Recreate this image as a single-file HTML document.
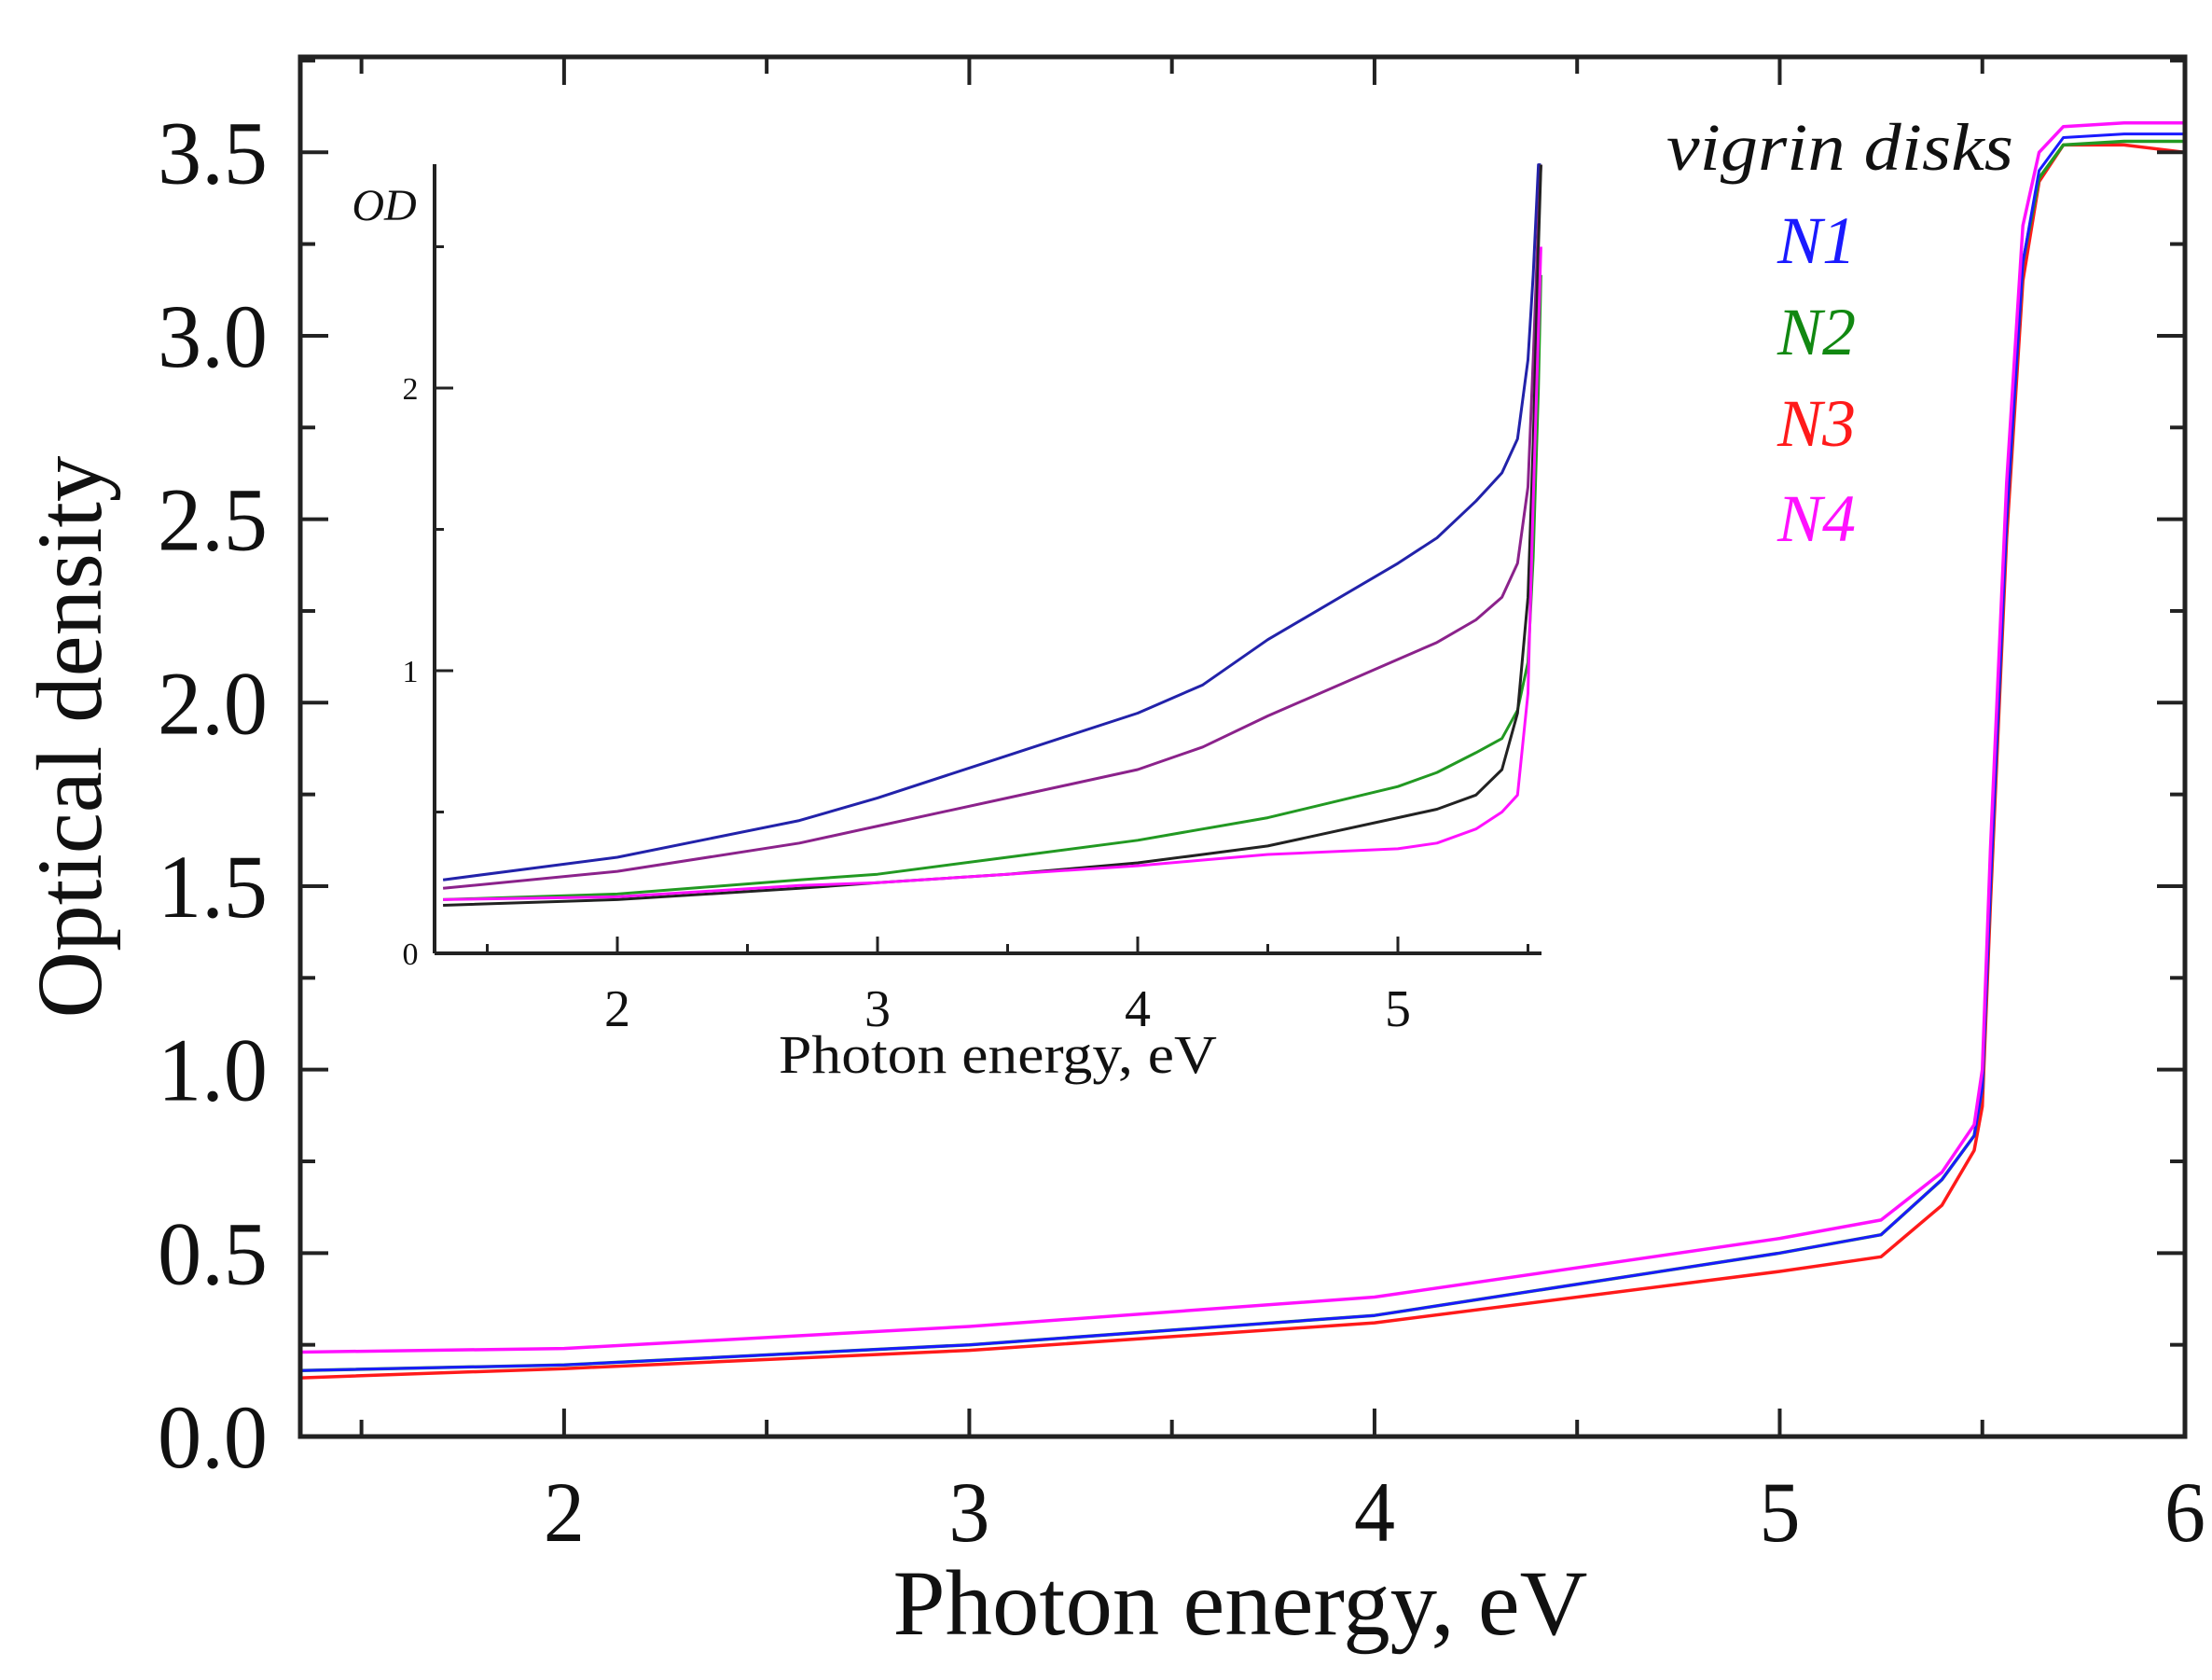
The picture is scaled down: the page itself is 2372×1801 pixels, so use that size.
<!DOCTYPE html>
<html><head><meta charset="utf-8"><style>
html,body{margin:0;padding:0;background:#fff;}
svg{display:block;}
text{font-family:"Liberation Serif",serif;fill:#111;}
</style></head><body>
<svg id="chart" width="2372" height="1801" viewBox="0 0 2372 1801" xmlns="http://www.w3.org/2000/svg">
<g id="main"></g>
<g id="inset"></g>
<text x="1973" y="182" font-size="72" font-style="italic" text-anchor="middle" textLength="372" lengthAdjust="spacingAndGlyphs">vigrin disks</text>
<text x="1948" y="282" font-size="72" font-style="italic" text-anchor="middle" style="fill:#1a1aff">N1</text>
<text x="1948" y="380" font-size="72" font-style="italic" text-anchor="middle" style="fill:#118811">N2</text>
<text x="1948" y="478" font-size="72" font-style="italic" text-anchor="middle" style="fill:#ff1a1a">N3</text>
<text x="1948" y="580" font-size="72" font-style="italic" text-anchor="middle" style="fill:#ff11ff">N4</text>
<text x="1330" y="1752" font-size="100" text-anchor="middle" textLength="745" lengthAdjust="spacingAndGlyphs">Photon energy, eV</text>
<text x="0" y="0" font-size="100" text-anchor="middle" textLength="603" lengthAdjust="spacingAndGlyphs" transform="translate(108,790) rotate(-90)">Optical density</text>
<text x="1070" y="1150" font-size="58" text-anchor="middle" textLength="470" lengthAdjust="spacingAndGlyphs">Photon energy, eV</text>
<text x="412" y="236" font-size="48" font-style="italic" text-anchor="middle">OD</text>
</svg>
<script>
// ---------- main chart data ----------
const mainX = [1.35, 2, 3, 4, 5, 5.25, 5.4, 5.48, 5.5, 5.52, 5.56, 5.6, 5.64, 5.7, 5.85, 6];
const seriesN1 = [0.18, 0.195, 0.25, 0.33, 0.50, 0.55, 0.70, 0.82, 0.95, 1.5, 2.5, 3.2, 3.45, 3.54, 3.55, 3.55];
const seriesN2 = [0.18, 0.195, 0.25, 0.33, 0.50, 0.55, 0.70, 0.82, 0.95, 1.5, 2.5, 3.2, 3.43, 3.52, 3.53, 3.53];
const seriesN3 = [0.16, 0.185, 0.235, 0.31, 0.45, 0.49, 0.63, 0.78, 0.90, 1.45, 2.45, 3.15, 3.42, 3.52, 3.52, 3.50];
const seriesN4 = [0.23, 0.24, 0.30, 0.38, 0.54, 0.59, 0.72, 0.85, 1.0, 1.6, 2.6, 3.3, 3.5, 3.57, 3.58, 3.58];
const mainXTicks = [2, 3, 4, 5, 6];
const mainYTicks = [0, 0.5, 1.0, 1.5, 2.0, 2.5, 3.0, 3.5];
const mainYTickLabels = ["0.0", "0.5", "1.0", "1.5", "2.0", "2.5", "3.0", "3.5"];
// ---------- inset data ----------
const insetX = [1.33, 2, 2.7, 3, 3.5, 4, 4.25, 4.5, 5, 5.15, 5.3, 5.4, 5.46, 5.5, 5.52, 5.54, 5.55];
const insetBlue = [0.26, 0.34, 0.47, 0.55, 0.70, 0.85, 0.95, 1.11, 1.38, 1.47, 1.60, 1.70, 1.82, 2.1, 2.4, 2.79, 2.79];
const insetPurple = [0.23, 0.29, 0.39, 0.45, 0.55, 0.65, 0.73, 0.84, 1.04, 1.10, 1.18, 1.26, 1.38, 1.65, 2.1, 2.6, 2.79];
const insetGreen = [0.19, 0.21, 0.26, 0.28, 0.34, 0.40, 0.44, 0.48, 0.59, 0.64, 0.71, 0.76, 0.86, 1.03, 1.4, 2.0, 2.4];
const insetBlack = [0.17, 0.19, 0.23, 0.25, 0.28, 0.32, 0.35, 0.38, 0.48, 0.51, 0.56, 0.65, 0.85, 1.26, 1.8, 2.5, 2.79];
const insetMagenta = [0.19, 0.20, 0.24, 0.25, 0.28, 0.31, 0.33, 0.35, 0.37, 0.39, 0.44, 0.50, 0.56, 0.92, 1.6, 2.2, 2.5];
const insetXTicks = [2, 3, 4, 5];
const insetYTicks = [0, 1, 2];

const NS = "http://www.w3.org/2000/svg";
function mk(parent, tag, attrs) {
  const e = document.createElementNS(NS, tag);
  for (const k in attrs) e.setAttribute(k, attrs[k]);
  parent.appendChild(e);
  return e;
}
const M = {l: 322, r: 2343, t: 61, b: 1540, x0: 1.349, x1: 6, y0: 0, y1: 3.76};
function mx(v) { return M.l + (v - M.x0) / (M.x1 - M.x0) * (M.r - M.l); }
function my(v) { return M.b - (v - M.y0) / (M.y1 - M.y0) * (M.b - M.t); }
const gm = document.getElementById('main');

function drawLine(g, xs, ys, fx, fy, color, w, name) {
  const d = xs.map((x, i) => (i ? 'L' : 'M') + fx(x).toFixed(1) + ' ' + fy(ys[i]).toFixed(1)).join(' ');
  const p = mk(g, 'path', {d: d, fill: 'none', stroke: color, 'stroke-width': w, 'stroke-linejoin': 'round'});
  
  
}
drawLine(gm, mainX, seriesN3, mx, my, '#ff1a1a', 3.5, 'line-n3');
drawLine(gm, mainX, seriesN2, mx, my, '#229922', 3.5, 'line-n2');
drawLine(gm, mainX, seriesN1, mx, my, '#1a1aff', 3, 'line-n1');
drawLine(gm, mainX, seriesN4, mx, my, '#ff11ff', 3.5, 'line-n4');

const frame = mk(gm, 'rect', {x: M.l, y: M.t, width: M.r - M.l, height: M.b - M.t, fill: 'none', stroke: '#222', 'stroke-width': 5});



for (let v = 1.5; v <= 6.001; v += 0.5) {
  const major = Math.abs(v - Math.round(v)) < 1e-6;
  const L = major ? 30 : 18;
  const X = mx(v);
  mk(gm, 'line', {x1: X, y1: M.b, x2: X, y2: M.b - L, stroke: '#222', 'stroke-width': 4});
  mk(gm, 'line', {x1: X, y1: M.t, x2: X, y2: M.t + L, stroke: '#222', 'stroke-width': 4});
}
mainXTicks.forEach(v => {
  const t = mk(gm, 'text', {x: mx(v), y: 1652, 'font-size': 92, 'text-anchor': 'middle', 'textLength': 44, 'lengthAdjust': 'spacingAndGlyphs'});
  t.textContent = String(v);
  
  
});
for (let v = 0.25; v <= 3.76; v += 0.25) {
  const major = Math.abs(v * 2 - Math.round(v * 2)) < 1e-6;
  const L = major ? 30 : 16;
  const Y = my(v);
  mk(gm, 'line', {x1: M.l, y1: Y, x2: M.l + L, y2: Y, stroke: '#222', 'stroke-width': 4});
  mk(gm, 'line', {x1: M.r, y1: Y, x2: M.r - L, y2: Y, stroke: '#222', 'stroke-width': 4});
}
mainYTicks.forEach((v, i) => {
  const t = mk(gm, 'text', {x: 287, y: my(v) + 33, 'font-size': 96, 'text-anchor': 'end', 'textLength': 118, 'lengthAdjust': 'spacingAndGlyphs'});
  t.textContent = mainYTickLabels[i];
  
  
});

const I = {l: 466, r: 1653, t: 176, b: 1022};
function ix(v) { return 662 + (v - 2) * 279; }
function iy(v) { return I.b - v * 303; }
const gi = document.getElementById('inset');
drawLine(gi, insetX, insetBlue, ix, iy, '#2222aa', 3, 'inset-line-blue');
drawLine(gi, insetX, insetPurple, ix, iy, '#8b228b', 3, 'inset-line-purple');
drawLine(gi, insetX, insetGreen, ix, iy, '#229922', 3, 'inset-line-green');
drawLine(gi, insetX, insetBlack, ix, iy, '#222', 3, 'inset-line-black');
drawLine(gi, insetX, insetMagenta, ix, iy, '#ff11ff', 3, 'inset-line-magenta');
const ax1 = mk(gi, 'line', {x1: I.l, y1: I.t, x2: I.l, y2: I.b, stroke: '#222', 'stroke-width': 4});


const ax2 = mk(gi, 'line', {x1: I.l, y1: I.b, x2: I.r, y2: I.b, stroke: '#222', 'stroke-width': 4});


for (let v = 1.5; v <= 5.51; v += 0.5) {
  const major = Math.abs(v - Math.round(v)) < 1e-6;
  mk(gi, 'line', {x1: ix(v), y1: I.b, x2: ix(v), y2: I.b - (major ? 18 : 10), stroke: '#222', 'stroke-width': 3});
}
insetXTicks.forEach(v => {
  const t = mk(gi, 'text', {x: ix(v), y: 1100, 'font-size': 56, 'text-anchor': 'middle'});
  t.textContent = String(v);
  
  
});
for (let v = 0.5; v <= 2.6; v += 0.5) {
  const major = Math.abs(v - Math.round(v)) < 1e-6;
  mk(gi, 'line', {x1: I.l, y1: iy(v), x2: I.l + (major ? 20 : 10), y2: iy(v), stroke: '#222', 'stroke-width': 3});
}
insetYTicks.forEach(v => {
  const t = mk(gi, 'text', {x: 440, y: iy(v) + 12, 'font-size': 34, 'text-anchor': 'middle'});
  t.textContent = String(v);
  
  
});
</script>
</body></html>
